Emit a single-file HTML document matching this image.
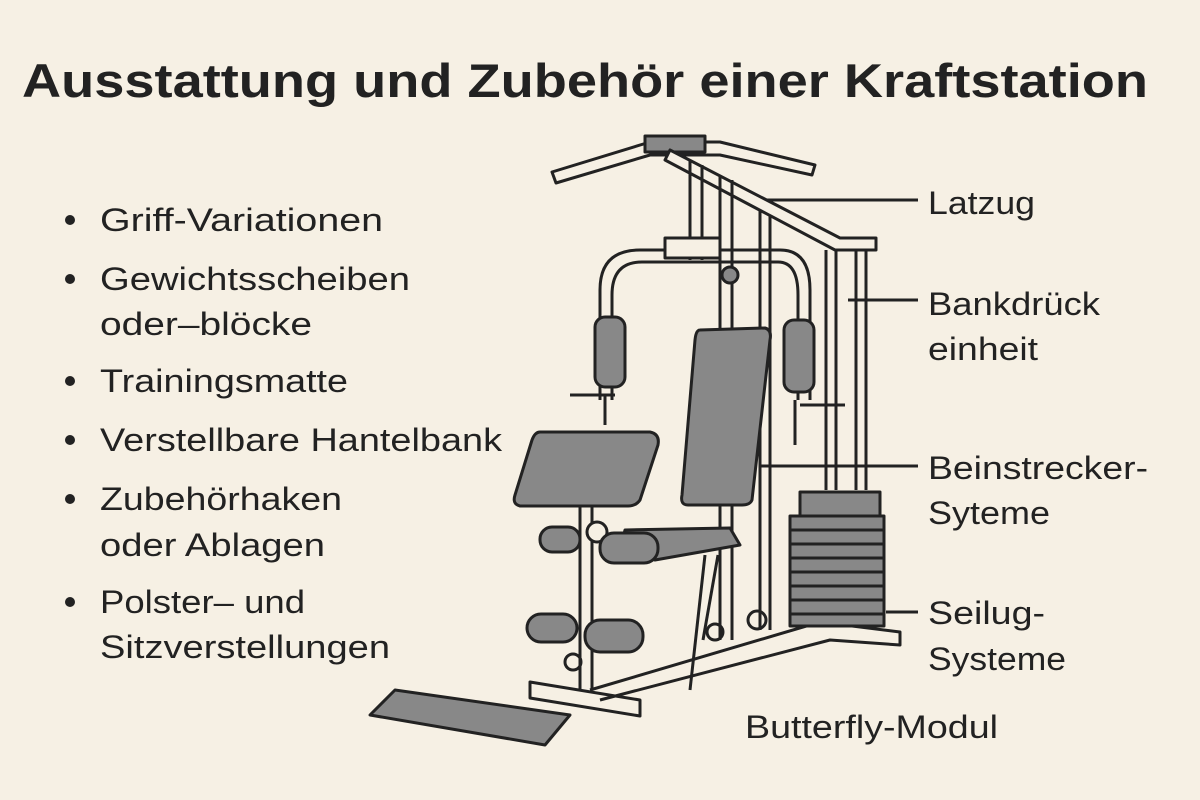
<!DOCTYPE html>
<html><head><meta charset="utf-8"><style>
html,body{margin:0;padding:0;background:#f6f0e4;}
svg{display:block}
text{font-family:"Liberation Sans",sans-serif;fill:#222;}
</style></head><body>
<svg width="1200" height="800" viewBox="0 0 1200 800" xmlns="http://www.w3.org/2000/svg">
<rect width="1200" height="800" fill="#f6f0e4"/>
<text x="22" y="97" font-size="47" font-weight="bold" textLength="1126" lengthAdjust="spacingAndGlyphs">Ausstattung und Zubehör einer Kraftstation</text>
<g font-size="32" lengthAdjust="spacingAndGlyphs">
<circle cx="70" cy="220" r="5" fill="#222"/><text x="100" y="231" textLength="283" lengthAdjust="spacingAndGlyphs">Griff-Variationen</text>
<circle cx="70" cy="279" r="5" fill="#222"/><text x="100" y="290" textLength="310" lengthAdjust="spacingAndGlyphs">Gewichtsscheiben</text><text x="100" y="335" textLength="212" lengthAdjust="spacingAndGlyphs">oder–blöcke</text>
<circle cx="70" cy="381" r="5" fill="#222"/><text x="100" y="392" textLength="248" lengthAdjust="spacingAndGlyphs">Trainingsmatte</text>
<circle cx="70" cy="440" r="5" fill="#222"/><text x="100" y="451" textLength="402" lengthAdjust="spacingAndGlyphs">Verstellbare Hantelbank</text>
<circle cx="70" cy="499" r="5" fill="#222"/><text x="100" y="510" textLength="242" lengthAdjust="spacingAndGlyphs">Zubehörhaken</text><text x="100" y="556" textLength="225" lengthAdjust="spacingAndGlyphs">oder Ablagen</text>
<circle cx="70" cy="602" r="5" fill="#222"/><text x="100" y="613" textLength="205" lengthAdjust="spacingAndGlyphs">Polster– und</text><text x="100" y="658" textLength="290" lengthAdjust="spacingAndGlyphs">Sitzverstellungen</text>
<text x="928" y="214" textLength="107" lengthAdjust="spacingAndGlyphs">Latzug</text>
<text x="928" y="315" textLength="172" lengthAdjust="spacingAndGlyphs">Bankdrück</text><text x="928" y="360" textLength="110" lengthAdjust="spacingAndGlyphs">einheit</text>
<text x="928" y="479" textLength="220" lengthAdjust="spacingAndGlyphs">Beinstrecker-</text><text x="928" y="524" textLength="122" lengthAdjust="spacingAndGlyphs">Syteme</text>
<text x="928" y="624" textLength="117" lengthAdjust="spacingAndGlyphs">Seilug-</text><text x="928" y="670" textLength="138" lengthAdjust="spacingAndGlyphs">Systeme</text>
<text x="745" y="738" textLength="253" lengthAdjust="spacingAndGlyphs">Butterfly-Modul</text>
</g>
<g stroke="#222" stroke-width="3" fill="none" stroke-linejoin="round">
<line x1="760" y1="200" x2="918" y2="200"/>
<line x1="848" y1="300" x2="918" y2="300"/>
<line x1="760" y1="466" x2="918" y2="466"/>
<line x1="886" y1="612" x2="918" y2="612"/>
<path d="M552 172 L650 142 L720 142 L815 165 L812 175 L720 155 L650 155 L556 183 Z" fill="#f6f0e4"/>
<rect x="645" y="136" width="60" height="16" fill="#888"/>
<path d="M670 150 L840 238 L876 238 L876 250 L835 250 L665 160 Z" fill="#f6f0e4"/>
<line x1="690" y1="160" x2="690" y2="260"/><line x1="702" y1="165" x2="702" y2="260"/>
<line x1="720" y1="175" x2="720" y2="640"/><line x1="732" y1="180" x2="732" y2="640"/>
<line x1="760" y1="210" x2="760" y2="630"/><line x1="770" y1="215" x2="770" y2="630"/>
<line x1="826" y1="250" x2="826" y2="490"/><line x1="836" y1="250" x2="836" y2="490"/>
<line x1="856" y1="250" x2="856" y2="490"/><line x1="866" y1="250" x2="866" y2="490"/>
<path d="M600 400 L600 290 Q600 250 640 250 L780 250 Q810 250 810 290 L810 400"/>
<path d="M612 400 L612 295 Q612 262 642 262 L778 262 Q798 262 798 295 L798 400"/>
<rect x="665" y="238" width="55" height="20" fill="#f6f0e4"/>
<circle cx="730" cy="275" r="8" fill="#888"/>
<rect x="595" y="317" width="30" height="70" rx="10" fill="#888"/>
<rect x="784" y="320" width="30" height="72" rx="10" fill="#888"/>
<line x1="570" y1="395" x2="615" y2="395"/><line x1="605" y1="395" x2="605" y2="425"/>
<line x1="800" y1="405" x2="845" y2="405"/><line x1="795" y1="400" x2="795" y2="445"/>
<path d="M700 330 L765 328 Q772 330 770 340 L752 500 Q750 505 742 505 L688 505 Q680 505 682 495 L695 340 Q696 330 700 330 Z" fill="#888"/>
<path d="M540 432 L650 432 Q660 434 658 445 L640 500 Q636 506 628 506 L520 506 Q512 504 515 495 L532 440 Q535 432 540 432 Z" fill="#888"/>
<path d="M625 530 L730 528 L740 545 L655 560 L620 550 Z" fill="#888"/>
<line x1="580" y1="505" x2="580" y2="690"/><line x1="592" y1="505" x2="592" y2="690"/>
<line x1="705" y1="555" x2="690" y2="690"/><line x1="718" y1="555" x2="703" y2="640"/>
<circle cx="597" cy="532" r="10" fill="#f6f0e4"/>
<rect x="540" y="527" width="40" height="25" rx="12" fill="#888"/>
<rect x="600" y="533" width="58" height="30" rx="14" fill="#888"/>
<rect x="527" y="614" width="50" height="28" rx="14" fill="#888"/>
<rect x="585" y="620" width="58" height="32" rx="15" fill="#888"/>
<circle cx="573" cy="662" r="8"/><circle cx="715" cy="632" r="8"/><circle cx="757" cy="620" r="9"/>
<path d="M530 682 L640 700 L640 716 L530 698 Z" fill="#f6f0e4"/>
<path d="M590 690 L820 622 L900 632 L900 645 L830 640 L600 700"/>
<rect x="800" y="492" width="80" height="26" fill="#888"/>
<g fill="#888">
<rect x="790" y="516" width="94" height="14"/><rect x="790" y="530" width="94" height="14"/>
<rect x="790" y="544" width="94" height="14"/><rect x="790" y="558" width="94" height="14"/>
<rect x="790" y="572" width="94" height="14"/><rect x="790" y="586" width="94" height="14"/>
<rect x="790" y="600" width="94" height="14"/><rect x="790" y="614" width="94" height="12"/>
</g>
<path d="M395 690 L570 715 L545 745 L370 715 Z" fill="#888"/>
</g>
</svg>
</body></html>
